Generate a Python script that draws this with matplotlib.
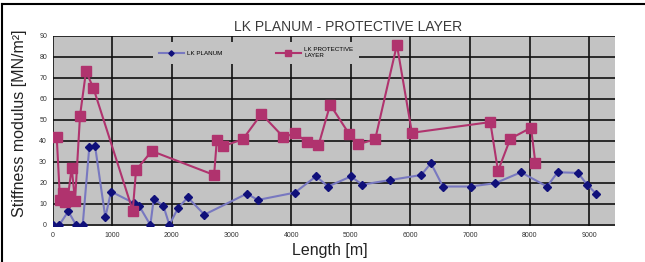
import numpy as np
import matplotlib
matplotlib.use('Agg')
import matplotlib.pyplot as plt
from matplotlib.lines import Line2D

plt.rcParams['font.family'] = ['Liberation Sans', 'DejaVu Sans']

# LK PLANUM (blue diamonds)
planum_x = [0, 112, 263, 393, 505, 616, 711, 884, 980, 1371, 1455, 1639, 1696,
            1857, 1958, 2104, 2267, 2545, 3257, 3441, 4062, 4419, 4616, 5002,
            5191, 5661, 6181, 6344, 6545, 7008, 7423, 7854, 8290, 8468, 8810,
            8961, 9117]
planum_y = [0, 0, 6.5, 0, 0, 37.3, 37.8, 3.6, 15.9, 10.3, 8.9, 0, 12.4,
            9.2, 0, 8.1, 13.1, 4.9, 14.9, 11.9, 15.4, 23.2, 18.3, 23.1,
            19.2, 21.4, 23.8, 29.4, 18.3, 18.3, 19.9, 25.1, 18.3, 25.1, 24.8,
            19.2, 14.8]

# LK PROTECTIVE LAYER (pink squares)
prot_x = [69, 124, 170, 208, 260, 320, 376, 460, 560, 683, 1344, 1399, 1663,
          2708, 2753, 2864, 3190, 3502, 3871, 4062, 4273, 4458, 4654, 4978,
          5119, 5409, 5773, 6025, 7339, 7468, 7675, 8022, 8094]
prot_y = [42, 12, 15, 11, 14, 27.3, 11.5, 52.1, 73.1, 65.3, 6.8, 26.1, 35.2,
          23.8, 40.3, 37.6, 40.8, 52.9, 41.8, 43.6, 39.5, 37.9, 57.3, 43.1,
          38.4, 40.8, 85.8, 43.9, 49.0, 25.7, 41.1, 46.3, 29.7]

x_ticks = np.arange(0, 9001, 1000)
y_ticks = np.arange(0, 91, 10)

W, H = 645, 262
fig = plt.figure(figsize=(W / 100, H / 100), dpi=100)
fig.patch.set_facecolor('white')

left, right, top, bottom = 52.6, 615, 36, 226
ax = fig.add_axes([left / W, 1 - bottom / H, (right - left) / W, (bottom - top) / H])
ax.set_facecolor('#c3c3c3')

ax.plot(planum_x, planum_y, color='#7878c0', lw=1.5, marker='D', ms=4.5,
        mfc='#10107a', mec='#10107a', label='LK PLANUM', zorder=3)
ax.plot(prot_x, prot_y, color='#b0336e', lw=1.5, marker='s', ms=7.5,
        mfc='#b0336e', mec='#b0336e', label='LK PROTECTIVE\nLAYER', zorder=4)

ax.set_xlim(0, 9430)
ax.set_ylim(-0.5, 90)
ax.set_xticks(x_ticks)
ax.set_yticks(y_ticks)
ax.tick_params(length=0, labelsize=5, colors='#333333', pad=4)
ax.grid(True, color='#111111', lw=1.2)
ax.set_axisbelow(True)
for s in ax.spines.values():
    s.set_visible(False)

leg = ax.legend(loc='lower left', bbox_to_anchor=(0.173, 0.837, 0.377, 0.131),
                mode='expand', ncol=2, fontsize=4.5, frameon=True,
                facecolor='#c3c3c3', edgecolor='none', framealpha=1,
                handlelength=4, borderpad=0.9, columnspacing=1.5, handletextpad=0.5,
                markerscale=0.6)
leg.get_frame().set_boxstyle('square', pad=0)

fig.text(348 / W, 1 - 27 / H, 'LK PLANUM - PROTECTIVE LAYER', ha='center', va='center',
         fontsize=10, color='#3a3a3a')
fig.text(19.5 / W, 1 - 123 / H, 'Stiffness modulus [MN/m²]', rotation=90,
         ha='center', va='center', fontsize=11.5, color='#222222')
fig.text(330 / W, 1 - 250 / H, 'Length [m]', ha='center', va='center',
         fontsize=11.5, color='#222222')

# outer border lines of the picture
fig.add_artist(Line2D([2 / W, 1], [1 - 4 / H, 1 - 4 / H], color='black', lw=1.5))
fig.add_artist(Line2D([2 / W, 2 / W], [0, 1 - 4 / H], color='black', lw=1.5))

fig.savefig('out.png', dpi=100)
